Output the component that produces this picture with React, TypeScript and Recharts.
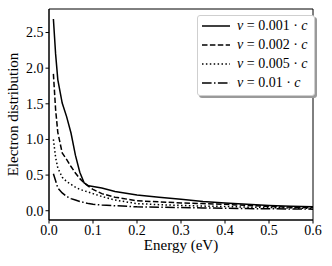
import { LineChart, Line, XAxis, YAxis, Legend, ReferenceArea } from 'recharts'

const energy = [0.01, 0.015, 0.02, 0.03, 0.04, 0.05, 0.06, 0.07, 0.08, 0.09, 0.1, 0.12, 0.15, 0.2, 0.25, 0.3, 0.35, 0.4, 0.45, 0.5, 0.55, 0.6]
const v001 = [2.69, 2.2, 1.84, 1.51, 1.32, 1.09, 0.78, 0.54, 0.39, 0.35, 0.34, 0.32, 0.27, 0.22, 0.19, 0.16, 0.13, 0.11, 0.09, 0.075, 0.062, 0.055]
const v002 = [1.92, 1.42, 1.1, 0.81, 0.72, 0.62, 0.53, 0.45, 0.39, 0.34, 0.3, 0.24, 0.19, 0.14, 0.125, 0.11, 0.1, 0.09, 0.075, 0.06, 0.05, 0.045]
const v005 = [1.0, 0.75, 0.6, 0.47, 0.41, 0.37, 0.33, 0.3, 0.28, 0.26, 0.24, 0.2, 0.15, 0.1, 0.085, 0.075, 0.065, 0.06, 0.05, 0.045, 0.038, 0.033]
const v01 = [0.52, 0.42, 0.32, 0.25, 0.2, 0.17, 0.15, 0.13, 0.115, 0.1, 0.09, 0.08, 0.07, 0.055, 0.05, 0.045, 0.04, 0.035, 0.03, 0.028, 0.025, 0.022]

const xTicks = [0, 0.1, 0.2, 0.3, 0.4, 0.5, 0.6]
const yTicks = [0, 0.5, 1.0, 1.5, 2.0, 2.5]
const xDomain = [0, 0.6]
const yDomain = [-0.13, 2.83]

const series = [
  { key: 'a', label: '0.001', dash: undefined as string | undefined },
  { key: 'b', label: '0.002', dash: '5.5 2.4' },
  { key: 'c', label: '0.005', dash: '1.5 2.4' },
  { key: 'd', label: '0.01', dash: '9.6 2.4 1.5 2.4' },
]

const data = energy.map((e, i) => ({ e, a: v001[i], b: v002[i], c: v005[i], d: v01[i] }))

const FONT = "'Times New Roman', 'Liberation Serif', Times, serif"
const tickStyle = { fill: '#000', fontSize: 14, fontFamily: FONT, fontWeight: 400 }

function renderLegend() {
  return (
    <div style={{
      background: '#fff', border: '1px solid #cfcfcf', borderRadius: 3, whiteSpace: 'nowrap',
      boxShadow: '2px 2px 0 #9a9a9a', padding: '0 6px 3px 4px', fontFamily: FONT, fontSize: 14,
      display: 'inline-block', lineHeight: '19px',
    }}>
      {series.map(s => (
        <div key={s.key} style={{ display: 'flex', alignItems: 'center', height: 19 }}>
          <svg width={28} height={10} style={{ marginRight: 7, flex: 'none' }}>
            <line x1={0} y1={5} x2={28} y2={5} stroke="#000" strokeWidth={1.5} strokeDasharray={s.dash} />
          </svg>
          <span><i>v</i> = {s.label} · <i>c</i></span>
        </div>
      ))}
    </div>
  )
}

export default function App() {
  return (
    <div style={{ position: 'absolute', left: 0, top: 0, background: '#fff', fontFamily: FONT }}>
      <LineChart width={332} height={266} data={data} margin={{ top: 9, right: 19, bottom: 0, left: 0 }}>
        <XAxis
          dataKey="e" type="number" domain={xDomain} ticks={xTicks} allowDataOverflow
          tickFormatter={(v: number) => v.toFixed(1)} tick={tickStyle} height={46}
          stroke="#000" tickSize={3.5} tickMargin={2}
          label={({ viewBox }: any) => (
            <text x={viewBox.x + viewBox.width / 2} y={viewBox.y + 30} textAnchor="middle" fontSize={15} fontWeight={400} fontFamily={FONT} fill="#000">Energy (eV)</text>
          )}
        />
        <YAxis
          type="number" domain={yDomain} ticks={yTicks} allowDataOverflow
          tickFormatter={(v: number) => v.toFixed(1)} tick={tickStyle} width={49}
          stroke="#000" tickSize={3.5} tickMargin={2}
          label={({ viewBox }: any) => (
            <text x={15} y={viewBox.y + viewBox.height / 2} textAnchor="middle" dominantBaseline="middle" fontSize={15} fontWeight={400} fontFamily={FONT} fill="#000"
              transform={`rotate(-90 15 ${viewBox.y + viewBox.height / 2})`}>Electron distribution</text>
          )}
        />
        <ReferenceArea x1={xDomain[0]} x2={xDomain[1]} y1={yDomain[0]} y2={yDomain[1]} fill="none" fillOpacity={0}
          stroke="#000" strokeWidth={1} strokeOpacity={1} ifOverflow="visible" />
        <Legend content={renderLegend} layout="horizontal" verticalAlign="middle" align="center"
          wrapperStyle={{ top: 15, left: 197, width: 'auto', bottom: 'auto' }} />
        {series.map(s => (
          <Line key={s.key} dataKey={s.key} stroke="#000" strokeWidth={1.5} strokeDasharray={s.dash}
            dot={false} type="linear" isAnimationActive={false} />
        ))}
      </LineChart>
    </div>
  )
}
